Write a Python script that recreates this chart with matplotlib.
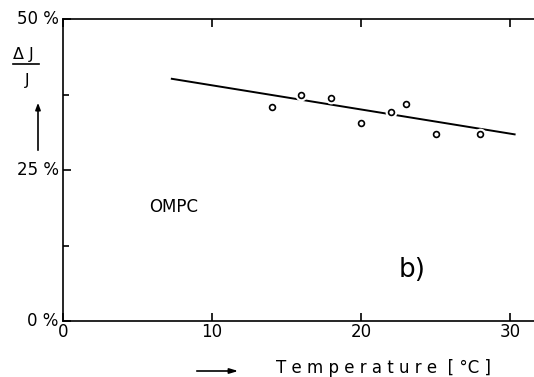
import matplotlib
matplotlib.use('Agg')
import matplotlib.pyplot as plt

# data
temp = [14, 16, 18, 20, 22, 23, 25, 28]
dj_j = [35.4, 37.5, 37.0, 32.8, 34.6, 36.0, 30.9, 31.0]
fit_x = [7.3, 30.3]
fit_y = [40.1, 30.9]

xticks = [0, 10, 20, 30]
yticks = [0, 25, 50]
ytick_labels = ['0 %', '25 %', '50 %']

plt.rcParams['font.family'] = 'DejaVu Sans'

fig = plt.figure(figsize=(5.34, 3.77), dpi=100)
ax = fig.add_axes([63 / 534, 1 - 321 / 377, 1 - 63 / 534, (321 - 19) / 377])
ax.set_xlim(0, 31.6)
ax.set_ylim(0, 50)

# fit line, points drawn on top with a white halo to break the line
ax.plot(fit_x, fit_y, color='black', lw=1.4, zorder=2)
ax.plot(temp, dj_j, 'o', ms=7, mfc='white', mec='white', mew=1.5, zorder=3)
ax.plot(temp, dj_j, 'o', ms=4.2, mfc='white', mec='black', mew=1.2, zorder=4)

for s in ['left', 'bottom', 'top']:
    ax.spines[s].set_linewidth(1.2)
ax.spines['right'].set_visible(False)

ax.set_xticks(xticks)
ax.set_xticklabels([str(t) for t in xticks])
ax.set_yticks(yticks)
ax.set_yticklabels(ytick_labels)
ax.set_yticks([12.5, 37.5], minor=True)
ax.tick_params(axis='both', which='both', direction='in', length=5.5, width=1.2,
               labelsize=12, pad=3)
ax.tick_params(axis='x', top=True, pad=1.5)
ax.tick_params(axis='y', which='minor', length=4)
for lab in ax.get_yticklabels():
    lab.set_verticalalignment('center')

# annotations
ax.text(5.8, 18.9, 'OMPC', fontsize=12, ha='left', va='center')
ax.text(22.5, 8.4, 'b)', fontsize=19, ha='left', va='center')

# y label: fraction dJ / J with upward arrow
fig.text(23 / 534, 1 - 55 / 377, '\u0394 J', fontsize=11.5, ha='center', va='center')
fig.add_artist(plt.Line2D([13 / 534, 39 / 534], [1 - 64 / 377, 1 - 64 / 377],
                          color='black', lw=1.2))
fig.text(27 / 534, 1 - 81 / 377, 'J', fontsize=11.5, ha='center', va='center')
fig.add_artist(matplotlib.patches.FancyArrowPatch(
    (38 / 534, 1 - 153 / 377), (38 / 534, 1 - 100 / 377),
    transform=fig.transFigure, arrowstyle='-|>,head_length=4,head_width=1.5',
    color='black', lw=1.2))

# x label with arrow
fig.add_artist(matplotlib.patches.FancyArrowPatch(
    (194 / 534, 1 - 371 / 377), (241 / 534, 1 - 371 / 377),
    transform=fig.transFigure, arrowstyle='-|>,head_length=5,head_width=1.5',
    color='black', lw=1.2))
fig.text(383 / 534, 1 - 368 / 377, 'T e m p e r a t u r e  [ \u00b0C ]',
         fontsize=12, ha='center', va='center')

fig.savefig('out.png', dpi=100, facecolor='white')
